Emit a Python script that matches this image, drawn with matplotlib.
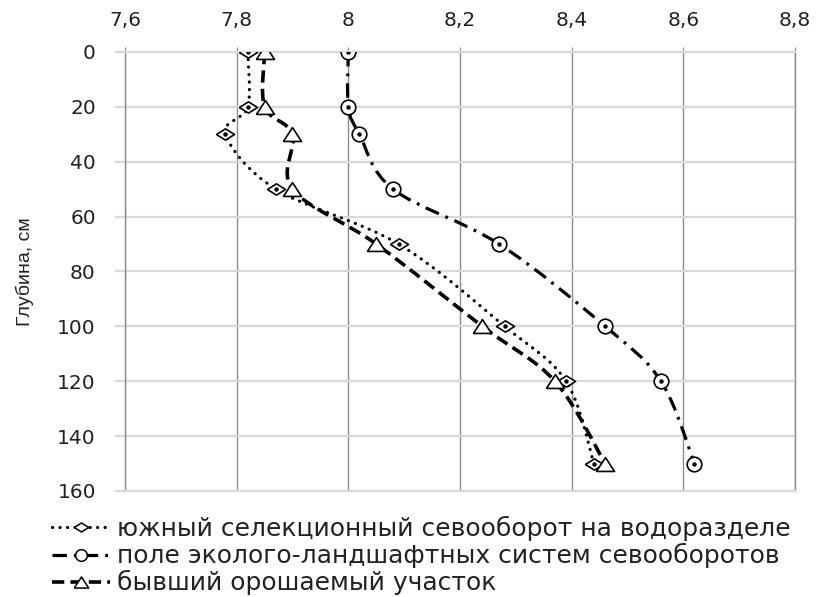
import matplotlib
matplotlib.use('Agg')
import matplotlib.pyplot as plt
from matplotlib.path import Path
from matplotlib.patches import PathPatch
from matplotlib.lines import Line2D

# глубина отбора, см
depth = [0, 20, 30, 50, 70, 100, 120, 150]
# pH по участкам
south = [7.82, 7.82, 7.78, 7.87, 8.09, 8.28, 8.39, 8.44]
eco = [8.00, 8.00, 8.02, 8.08, 8.27, 8.46, 8.56, 8.62]
irrig = [7.85, 7.85, 7.90, 7.90, 8.05, 8.24, 8.37, 8.46]

labels = ['южный селекционный севооборот на водоразделе',
          'поле эколого-ландшафтных систем севооборотов',
          'бывший орошаемый участок']
x_ticks = [7.6, 7.8, 8.0, 8.2, 8.4, 8.6, 8.8]
x_tick_labels = ['7,6', '7,8', '8', '8,2', '8,4', '8,6', '8,8']
y_ticks = [0, 20, 40, 60, 80, 100, 120, 140, 160]

# маркеры чуть шире по горизонтали, как в исходнике
diamond = [(-1.6, 0), (0, 1), (1.6, 0), (0, -1), (-1.6, 0)]
triangle = [(-1.3, -1), (0, 1), (1.3, -1), (-1.3, -1)]
ellipse = 'o'


def smooth_path(xs, ys):
    # сглаживание как в Excel: кубические кривые Безье (Catmull-Rom)
    pts = list(zip(xs, ys))
    n = len(pts)
    verts = [pts[0]]
    codes = [Path.MOVETO]
    for i in range(n - 1):
        p0 = pts[i - 1] if i > 0 else pts[i]
        p1 = pts[i]
        p2 = pts[i + 1]
        p3 = pts[i + 2] if i + 2 < n else pts[i + 1]
        c1 = (p1[0] + (p2[0] - p0[0]) / 6, p1[1] + (p2[1] - p0[1]) / 6)
        c2 = (p2[0] - (p3[0] - p1[0]) / 6, p2[1] - (p3[1] - p1[1]) / 6)
        verts += [c1, c2, p2]
        codes += [Path.CURVE4] * 3
    return Path(verts, codes)


fig = plt.figure(figsize=(8.24, 5.97), dpi=100)
ax = fig.add_axes([0.1517, 0.1776, 0.8131, 0.7353])

styles = [
    (south, (0, (0.05, 2.3)), 2.3, 'round', diamond, 13, True),
    (eco, (0, (4.5, 2.2, 0.9, 2.2)), 2.3, 'butt', ellipse, 10.5, True),
    (irrig, (0, (3.4, 1.7)), 2.6, 'butt', triangle, 13, False),
]

handles = []
for (vals, ls, lw, cap, mk, ms, dot), lab in zip(styles, labels):
    patch = PathPatch(smooth_path(vals, depth), facecolor='none', edgecolor='black',
                      linewidth=lw, linestyle=ls, capstyle=cap, zorder=3)
    ax.add_patch(patch)
    ax.plot(vals, depth, linestyle='none', marker=mk, markersize=ms,
            markerfacecolor='white', markeredgecolor='black', markeredgewidth=1.2, zorder=4)
    if dot:
        ax.plot(vals, depth, linestyle='none', marker='o', markersize=2.2,
                color='black', zorder=5)
    handles.append(Line2D([], [], color='black', linewidth=lw, linestyle=ls,
                          dash_capstyle=cap, marker=mk, markersize=ms * 0.8,
                          markerfacecolor='white', markeredgecolor='black',
                          markeredgewidth=1.1))

ax.set_xlim(7.6, 8.8)
ax.set_ylim(160, 0)
ax.set_xticks(x_ticks)
ax.set_xticklabels(x_tick_labels)
ax.set_yticks(y_ticks)
ax.xaxis.tick_top()

ax.grid(axis='x', color='#8c8c8c', linewidth=1.0, zorder=0)
ax.grid(axis='y', color='#d9d9d9', linewidth=1.6, zorder=0)
ax.set_axisbelow(True)
for side in ['top', 'bottom']:
    ax.spines[side].set_color('#d9d9d9')
    ax.spines[side].set_linewidth(1.6)
for side in ['left', 'right']:
    ax.spines[side].set_color('#8c8c8c')
    ax.spines[side].set_linewidth(1.0)

ax.tick_params(axis='x', top=True, bottom=False, direction='out', length=3.5,
               color='#8c8c8c', labelsize=14.5, labelcolor='#222222', pad=12)
ax.tick_params(axis='y', direction='out', length=7, width=1.6, color='#d9d9d9',
               labelsize=14.5, labelcolor='#222222', pad=14)

ax.set_ylabel('Глубина, см', family=['Liberation Sans Narrow', 'Liberation Sans', 'DejaVu Sans'],
              fontsize=14, color='#222222', labelpad=17)

fig.legend(handles, labels, loc='upper left', bbox_to_anchor=(52 / 824, 1 - 516 / 597),
           frameon=False, fontsize=18, handlelength=2.3, handletextpad=0.3,
           labelspacing=0.08, borderpad=0, borderaxespad=0, labelcolor='#222222')

fig.savefig('out.png', dpi=100)
